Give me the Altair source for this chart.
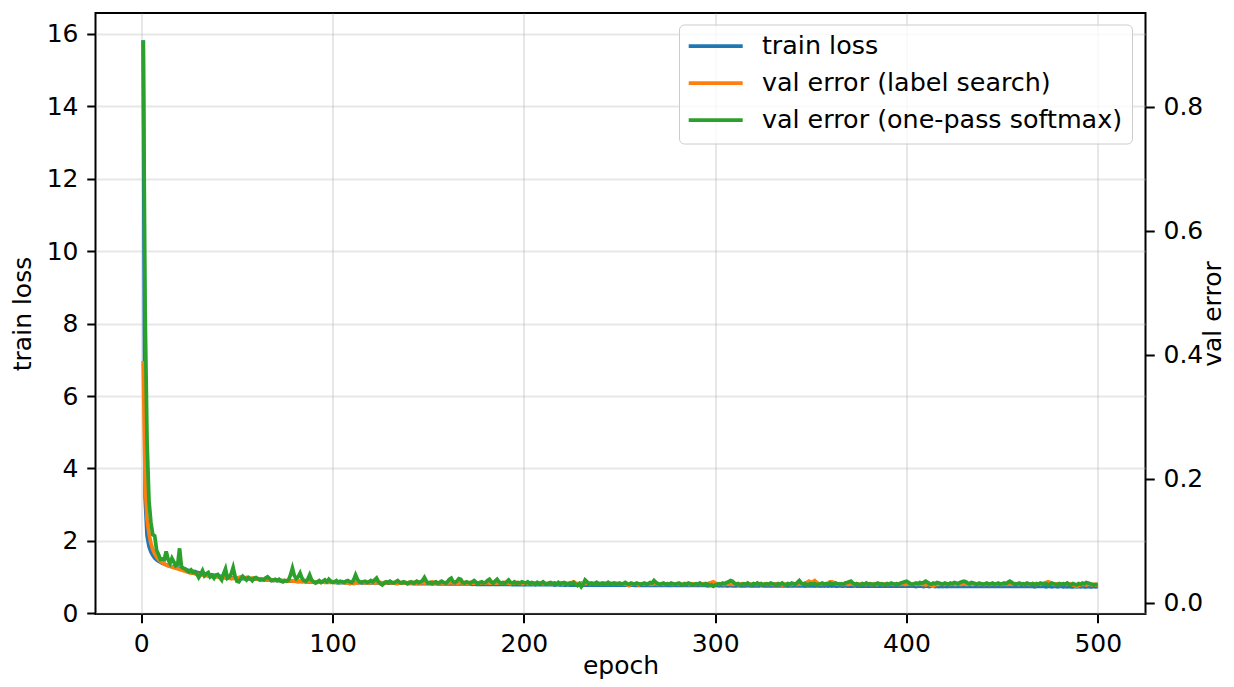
import altair as alt
import pandas as pd

epochs = list(range(1, 501))

series_names = ["train loss", "val error (label search)", "val error (one-pass softmax)"]
series_colors = ["#1f77b4", "#ff7f0e", "#2ca02c"]

train_loss = [
    15.83, 3.20, 2.15, 1.85, 1.70, 1.60, 1.53, 1.48, 1.44, 1.41,
    1.38, 1.36, 1.34, 1.32, 1.30, 1.29, 1.27, 1.26, 1.25, 1.24,
    1.23, 1.22, 1.21, 1.19, 1.18, 1.17, 1.16, 1.15, 1.13, 1.12,
    1.11, 1.10, 1.09, 1.08, 1.07, 1.06, 1.06, 1.05, 1.04, 1.03,
    1.02, 1.02, 1.01, 1.00, 1.00, 0.99, 0.99, 0.98, 0.98, 0.98,
    0.97, 0.97, 0.96, 0.96, 0.96, 0.95, 0.95, 0.95, 0.94, 0.94,
    0.94, 0.93, 0.93, 0.93, 0.92, 0.92, 0.92, 0.91, 0.91, 0.91,
    0.91, 0.90, 0.90, 0.90, 0.90, 0.89, 0.89, 0.89, 0.89, 0.89,
    0.88, 0.88, 0.88, 0.88, 0.88, 0.87, 0.87, 0.87, 0.87, 0.87,
    0.87, 0.87, 0.86, 0.86, 0.86, 0.86, 0.86, 0.86, 0.86, 0.86,
    0.86, 0.85, 0.85, 0.85, 0.85, 0.85, 0.85, 0.85, 0.85, 0.85,
    0.85, 0.85, 0.84, 0.85, 0.84, 0.84, 0.84, 0.84, 0.84, 0.84,
    0.84, 0.84, 0.84, 0.84, 0.84, 0.83, 0.84, 0.83, 0.83, 0.83,
    0.83, 0.83, 0.83, 0.83, 0.83, 0.83, 0.83, 0.83, 0.83, 0.82,
    0.83, 0.82, 0.82, 0.82, 0.82, 0.82, 0.82, 0.82, 0.82, 0.82,
    0.82, 0.82, 0.82, 0.82, 0.81, 0.82, 0.81, 0.81, 0.81, 0.81,
    0.81, 0.81, 0.81, 0.81, 0.81, 0.81, 0.81, 0.81, 0.81, 0.81,
    0.81, 0.81, 0.80, 0.81, 0.80, 0.80, 0.80, 0.80, 0.80, 0.80,
    0.80, 0.80, 0.80, 0.80, 0.80, 0.80, 0.80, 0.80, 0.80, 0.80,
    0.80, 0.80, 0.80, 0.79, 0.80, 0.79, 0.79, 0.80, 0.79, 0.79,
    0.79, 0.79, 0.79, 0.79, 0.79, 0.79, 0.79, 0.79, 0.79, 0.79,
    0.79, 0.79, 0.79, 0.79, 0.79, 0.78, 0.79, 0.79, 0.78, 0.79,
    0.78, 0.78, 0.79, 0.78, 0.78, 0.78, 0.78, 0.78, 0.78, 0.78,
    0.78, 0.78, 0.78, 0.78, 0.78, 0.78, 0.78, 0.78, 0.78, 0.78,
    0.78, 0.78, 0.78, 0.78, 0.78, 0.78, 0.78, 0.78, 0.78, 0.78,
    0.78, 0.78, 0.78, 0.78, 0.77, 0.78, 0.78, 0.77, 0.78, 0.77,
    0.77, 0.78, 0.77, 0.77, 0.77, 0.77, 0.77, 0.77, 0.77, 0.77,
    0.77, 0.77, 0.77, 0.77, 0.77, 0.77, 0.77, 0.77, 0.77, 0.77,
    0.77, 0.77, 0.77, 0.77, 0.77, 0.77, 0.77, 0.77, 0.77, 0.77,
    0.77, 0.77, 0.77, 0.77, 0.77, 0.76, 0.77, 0.77, 0.76, 0.77,
    0.77, 0.76, 0.77, 0.76, 0.77, 0.76, 0.76, 0.77, 0.76, 0.76,
    0.76, 0.77, 0.76, 0.76, 0.76, 0.76, 0.77, 0.76, 0.76, 0.76,
    0.76, 0.76, 0.76, 0.77, 0.76, 0.76, 0.76, 0.76, 0.76, 0.76,
    0.76, 0.76, 0.76, 0.76, 0.76, 0.76, 0.76, 0.75, 0.76, 0.76,
    0.76, 0.76, 0.76, 0.76, 0.76, 0.76, 0.75, 0.76, 0.76, 0.76,
    0.76, 0.75, 0.76, 0.76, 0.75, 0.76, 0.75, 0.76, 0.75, 0.76,
    0.75, 0.76, 0.75, 0.75, 0.76, 0.75, 0.75, 0.76, 0.75, 0.75,
    0.75, 0.75, 0.76, 0.75, 0.75, 0.75, 0.75, 0.75, 0.75, 0.75,
    0.75, 0.75, 0.75, 0.75, 0.75, 0.75, 0.75, 0.75, 0.75, 0.75,
    0.75, 0.75, 0.75, 0.75, 0.75, 0.75, 0.75, 0.75, 0.75, 0.75,
    0.75, 0.75, 0.75, 0.75, 0.74, 0.75, 0.75, 0.75, 0.74, 0.75,
    0.75, 0.74, 0.75, 0.75, 0.74, 0.75, 0.74, 0.75, 0.74, 0.75,
    0.74, 0.75, 0.74, 0.74, 0.75, 0.74, 0.74, 0.75, 0.74, 0.74,
    0.74, 0.74, 0.75, 0.74, 0.74, 0.74, 0.74, 0.74, 0.74, 0.74,
    0.74, 0.74, 0.74, 0.74, 0.74, 0.74, 0.74, 0.74, 0.74, 0.74,
    0.74, 0.74, 0.74, 0.74, 0.74, 0.74, 0.74, 0.74, 0.74, 0.74,
    0.74, 0.74, 0.74, 0.74, 0.74, 0.74, 0.73, 0.74, 0.74, 0.74,
    0.74, 0.74, 0.73, 0.74, 0.74, 0.73, 0.74, 0.74, 0.73, 0.74,
    0.74, 0.73, 0.74, 0.73, 0.74, 0.73, 0.73, 0.74, 0.73, 0.74,
    0.73, 0.74, 0.73, 0.73, 0.74, 0.73, 0.73, 0.74, 0.73, 0.74,
]

val_error_label_search = [
    0.390, 0.195, 0.135, 0.112, 0.096, 0.086, 0.079, 0.074, 0.070, 0.067,
    0.065, 0.063, 0.061, 0.060, 0.059, 0.058, 0.057, 0.056, 0.055, 0.054,
    0.053, 0.052, 0.051, 0.050, 0.049, 0.048, 0.048, 0.047, 0.046, 0.046,
    0.045, 0.045, 0.044, 0.044, 0.043, 0.043, 0.043, 0.042, 0.042, 0.042,
    0.041, 0.041, 0.041, 0.040, 0.040, 0.040, 0.039, 0.040, 0.039, 0.039,
    0.041, 0.042, 0.041, 0.040, 0.041, 0.040, 0.039, 0.040, 0.039, 0.039,
    0.038, 0.039, 0.038, 0.038, 0.037, 0.038, 0.037, 0.037, 0.036, 0.037,
    0.036, 0.037, 0.036, 0.036, 0.035, 0.036, 0.035, 0.036, 0.035, 0.035,
    0.035, 0.034, 0.035, 0.034, 0.035, 0.034, 0.034, 0.035, 0.034, 0.034,
    0.034, 0.033, 0.034, 0.033, 0.034, 0.033, 0.034, 0.033, 0.033, 0.034,
    0.033, 0.034, 0.033, 0.033, 0.034, 0.033, 0.032, 0.033, 0.031, 0.032,
    0.031, 0.033, 0.032, 0.033, 0.034, 0.033, 0.032, 0.033, 0.032, 0.033,
    0.033, 0.032, 0.033, 0.032, 0.033, 0.032, 0.033, 0.032, 0.033, 0.033,
    0.032, 0.033, 0.031, 0.031, 0.032, 0.033, 0.032, 0.033, 0.032, 0.033,
    0.032, 0.033, 0.033, 0.032, 0.033, 0.032, 0.033, 0.032, 0.033, 0.032,
    0.033, 0.034, 0.032, 0.033, 0.032, 0.033, 0.032, 0.031, 0.032, 0.033,
    0.032, 0.033, 0.032, 0.033, 0.032, 0.032, 0.033, 0.032, 0.033, 0.032,
    0.032, 0.033, 0.032, 0.032, 0.033, 0.032, 0.032, 0.033, 0.032, 0.032,
    0.033, 0.032, 0.032, 0.033, 0.032, 0.032, 0.033, 0.032, 0.032, 0.033,
    0.032, 0.032, 0.031, 0.032, 0.032, 0.033, 0.032, 0.032, 0.031, 0.032,
    0.032, 0.031, 0.032, 0.032, 0.031, 0.032, 0.031, 0.032, 0.032, 0.031,
    0.032, 0.031, 0.031, 0.032, 0.031, 0.032, 0.031, 0.031, 0.032, 0.031,
    0.031, 0.032, 0.031, 0.032, 0.033, 0.034, 0.032, 0.031, 0.031, 0.032,
    0.031, 0.031, 0.032, 0.031, 0.031, 0.032, 0.031, 0.031, 0.032, 0.031,
    0.031, 0.032, 0.031, 0.031, 0.032, 0.031, 0.031, 0.032, 0.031, 0.031,
    0.031, 0.030, 0.031, 0.029, 0.028, 0.030, 0.031, 0.030, 0.031, 0.029,
    0.030, 0.031, 0.030, 0.031, 0.030, 0.031, 0.030, 0.031, 0.031, 0.030,
    0.030, 0.031, 0.030, 0.030, 0.031, 0.030, 0.031, 0.030, 0.030, 0.031,
    0.030, 0.031, 0.030, 0.030, 0.031, 0.030, 0.030, 0.031, 0.030, 0.030,
    0.031, 0.030, 0.030, 0.031, 0.030, 0.031, 0.032, 0.033, 0.034, 0.032,
    0.031, 0.030, 0.031, 0.030, 0.030, 0.031, 0.030, 0.031, 0.030, 0.030,
    0.031, 0.030, 0.030, 0.031, 0.030, 0.030, 0.031, 0.030, 0.030, 0.031,
    0.030, 0.030, 0.031, 0.030, 0.030, 0.031, 0.030, 0.030, 0.031, 0.030,
    0.030, 0.031, 0.030, 0.030, 0.029, 0.030, 0.030, 0.031, 0.030, 0.030,
    0.031, 0.030, 0.030, 0.031, 0.030, 0.031, 0.032, 0.033, 0.035, 0.033,
    0.034, 0.036, 0.033, 0.031, 0.030, 0.031, 0.030, 0.031, 0.032, 0.034,
    0.034, 0.033, 0.031, 0.030, 0.031, 0.030, 0.030, 0.031, 0.030, 0.030,
    0.031, 0.030, 0.030, 0.031, 0.030, 0.030, 0.031, 0.030, 0.030, 0.031,
    0.030, 0.030, 0.031, 0.030, 0.030, 0.031, 0.030, 0.030, 0.031, 0.030,
    0.030, 0.031, 0.030, 0.030, 0.031, 0.030, 0.030, 0.031, 0.030, 0.030,
    0.031, 0.030, 0.030, 0.031, 0.030, 0.030, 0.031, 0.030, 0.030, 0.029,
    0.030, 0.030, 0.028, 0.027, 0.029, 0.030, 0.030, 0.031, 0.030, 0.030,
    0.031, 0.030, 0.030, 0.031, 0.030, 0.030, 0.031, 0.030, 0.030, 0.031,
    0.030, 0.030, 0.031, 0.030, 0.030, 0.031, 0.030, 0.030, 0.031, 0.030,
    0.030, 0.031, 0.030, 0.030, 0.031, 0.030, 0.030, 0.031, 0.030, 0.030,
    0.031, 0.030, 0.030, 0.031, 0.030, 0.030, 0.031, 0.030, 0.030, 0.031,
    0.030, 0.030, 0.031, 0.030, 0.030, 0.031, 0.030, 0.030, 0.031, 0.030,
    0.031, 0.032, 0.033, 0.034, 0.033, 0.031, 0.030, 0.030, 0.031, 0.030,
    0.030, 0.031, 0.030, 0.030, 0.031, 0.030, 0.029, 0.028, 0.027, 0.028,
    0.029, 0.030, 0.030, 0.029, 0.030, 0.030, 0.029, 0.030, 0.029, 0.030,
]

val_error_softmax = [
    0.907, 0.470, 0.260, 0.165, 0.130, 0.110, 0.108, 0.085, 0.078, 0.070,
    0.071, 0.070, 0.083, 0.070, 0.064, 0.072, 0.066, 0.060, 0.062, 0.088,
    0.058, 0.056, 0.055, 0.052, 0.050, 0.053, 0.049, 0.050, 0.047, 0.041,
    0.046, 0.052, 0.044, 0.047, 0.049, 0.042, 0.044, 0.040, 0.045, 0.046,
    0.041, 0.037, 0.047, 0.055, 0.040, 0.042, 0.047, 0.057, 0.043, 0.035,
    0.034, 0.039, 0.043, 0.040, 0.037, 0.041, 0.039, 0.036, 0.040, 0.041,
    0.039, 0.037, 0.038, 0.037, 0.040, 0.042, 0.039, 0.036, 0.037, 0.038,
    0.036, 0.038, 0.035, 0.034, 0.036, 0.035, 0.037, 0.045, 0.056, 0.044,
    0.039, 0.042, 0.048, 0.040, 0.036, 0.035, 0.038, 0.045, 0.037, 0.034,
    0.032, 0.034, 0.036, 0.033, 0.035, 0.037, 0.034, 0.038, 0.035, 0.033,
    0.034, 0.036, 0.033, 0.035, 0.034, 0.033, 0.035, 0.036, 0.034, 0.033,
    0.037, 0.045, 0.038, 0.034, 0.033, 0.034, 0.035, 0.033, 0.034, 0.036,
    0.034, 0.037, 0.040, 0.034, 0.031, 0.029, 0.032, 0.034, 0.033, 0.035,
    0.033, 0.032, 0.034, 0.036, 0.033, 0.032, 0.034, 0.033, 0.031, 0.033,
    0.034, 0.032, 0.033, 0.035, 0.033, 0.034, 0.036, 0.041, 0.035, 0.032,
    0.033, 0.031, 0.033, 0.034, 0.032, 0.033, 0.035, 0.033, 0.032, 0.034,
    0.038, 0.040, 0.034, 0.033, 0.035, 0.039, 0.038, 0.033, 0.032, 0.034,
    0.033, 0.032, 0.034, 0.036, 0.033, 0.031, 0.033, 0.034, 0.032, 0.033,
    0.036, 0.038, 0.034, 0.032, 0.035, 0.038, 0.034, 0.032, 0.033, 0.031,
    0.034, 0.037, 0.033, 0.032, 0.034, 0.031, 0.033, 0.032, 0.034, 0.033,
    0.032, 0.034, 0.031, 0.033, 0.032, 0.030, 0.033, 0.031, 0.032, 0.034,
    0.031, 0.030, 0.032, 0.033, 0.031, 0.032, 0.030, 0.033, 0.031, 0.032,
    0.033, 0.031, 0.030, 0.032, 0.031, 0.033, 0.030, 0.028, 0.031, 0.026,
    0.030, 0.037, 0.034, 0.031, 0.032, 0.030, 0.031, 0.033, 0.030, 0.031,
    0.032, 0.030, 0.031, 0.033, 0.030, 0.031, 0.032, 0.030, 0.031, 0.032,
    0.030, 0.031, 0.033, 0.031, 0.030, 0.032, 0.031, 0.030, 0.032, 0.031,
    0.030, 0.031, 0.032, 0.030, 0.031, 0.033, 0.032, 0.036, 0.033, 0.031,
    0.030, 0.031, 0.032, 0.030, 0.031, 0.030, 0.032, 0.031, 0.030, 0.031,
    0.032, 0.030, 0.029, 0.031, 0.030, 0.032, 0.031, 0.029, 0.030, 0.031,
    0.030, 0.032, 0.030, 0.029, 0.031, 0.030, 0.028, 0.029, 0.027, 0.029,
    0.030, 0.031, 0.030, 0.032, 0.031, 0.033, 0.034, 0.036, 0.035, 0.032,
    0.030, 0.031, 0.029, 0.030, 0.031, 0.030, 0.032, 0.030, 0.029, 0.031,
    0.030, 0.032, 0.030, 0.031, 0.029, 0.030, 0.031, 0.030, 0.032, 0.031,
    0.030, 0.029, 0.031, 0.030, 0.032, 0.030, 0.029, 0.031, 0.030, 0.032,
    0.031, 0.030, 0.033, 0.036, 0.032, 0.030, 0.031, 0.029, 0.030, 0.031,
    0.030, 0.031, 0.029, 0.030, 0.031, 0.032, 0.030, 0.031, 0.030, 0.032,
    0.031, 0.030, 0.032, 0.031, 0.030, 0.031, 0.030, 0.032, 0.033, 0.034,
    0.035, 0.032, 0.030, 0.031, 0.030, 0.029, 0.031, 0.030, 0.032, 0.030,
    0.031, 0.030, 0.029, 0.031, 0.032, 0.030, 0.031, 0.030, 0.029, 0.031,
    0.030, 0.032, 0.031, 0.030, 0.031, 0.030, 0.032, 0.033, 0.034, 0.035,
    0.033, 0.031, 0.030, 0.031, 0.032, 0.031, 0.033, 0.032, 0.033, 0.035,
    0.033, 0.031, 0.030, 0.032, 0.031, 0.033, 0.032, 0.031, 0.030, 0.032,
    0.031, 0.030, 0.032, 0.031, 0.033, 0.032, 0.031, 0.033, 0.034, 0.035,
    0.034, 0.032, 0.031, 0.033, 0.032, 0.031, 0.030, 0.032, 0.031, 0.030,
    0.031, 0.032, 0.030, 0.031, 0.032, 0.030, 0.031, 0.032, 0.030, 0.031,
    0.032, 0.031, 0.033, 0.035, 0.033, 0.031, 0.030, 0.031, 0.032, 0.030,
    0.031, 0.030, 0.032, 0.031, 0.030, 0.031, 0.029, 0.031, 0.030, 0.032,
    0.031, 0.030, 0.031, 0.029, 0.030, 0.032, 0.031, 0.030, 0.029, 0.031,
    0.030, 0.031, 0.030, 0.032, 0.030, 0.029, 0.031, 0.030, 0.029, 0.031,
    0.030, 0.032, 0.031, 0.033, 0.032, 0.031, 0.030, 0.029, 0.030, 0.030,
]

x_ticks = [0, 100, 200, 300, 400, 500]
left_ticks = [0, 2, 4, 6, 8, 10, 12, 14, 16]
right_ticks = [0.0, 0.2, 0.4, 0.6, 0.8]

assert len(train_loss) == 500 and len(val_error_label_search) == 500 and len(val_error_softmax) == 500

df_train = pd.DataFrame({"epoch": epochs, "value": train_loss, "series": series_names[0]})
df_search = pd.DataFrame({"epoch": epochs, "value": val_error_label_search, "series": series_names[1]})
df_soft = pd.DataFrame({"epoch": epochs, "value": val_error_softmax, "series": series_names[2]})

FONT = "DejaVu Sans"
LW = 3.75

x_enc = alt.X(
    "epoch:Q",
    scale=alt.Scale(domain=[-23.95, 524.95], nice=False, zero=False),
    axis=alt.Axis(values=x_ticks, title="epoch", grid=True, labelFlush=False,
                  labelOverlap=False, titleX=525, titleY=59,
                  titleBaseline="alphabetic", titleAlign="center"),
)

color_enc = alt.Color(
    "series:N",
    scale=alt.Scale(domain=series_names, range=series_colors),
    legend=alt.Legend(
        title=None, orient="none", legendX=583.5, legendY=11.5,
        symbolType="M-3,0H3", symbolSize=324, symbolStrokeWidth=LW,
        symbolOffset=15, labelOffset=33.5, labelFont=FONT, labelFontSize=25.4,
        labelColor="black", labelLimit=1000, rowPadding=10, padding=9,
        strokeColor="#cccccc", fillColor="rgba(255,255,255,0.8)", cornerRadius=5,
    ),
)

left_y = alt.Y(
    "value:Q",
    scale=alt.Scale(domain=[-0.02, 16.58], nice=False, zero=False),
    axis=alt.Axis(orient="left", title="train loss", values=left_ticks, grid=True,
                  labelOverlap=False, titleAngle=-90, titleX=-65.5, titleY=300.5,
                  titleBaseline="alphabetic", titleAlign="center"),
)

right_axis = alt.Axis(orient="right", title="val error", values=right_ticks, format=".1f",
                      grid=False, labelOverlap=False, titleAngle=-90, titleX=75,
                      titleY=300.5, titleBaseline="alphabetic", titleAlign="center")
right_scale = alt.Scale(domain=[-0.0179, 0.9513], nice=False, zero=False)

blue = alt.Chart(df_train).mark_line(strokeWidth=LW).encode(x=x_enc, y=left_y, color=color_enc)
orange = alt.Chart(df_search).mark_line(strokeWidth=LW).encode(
    x=x_enc, y=alt.Y("value:Q", scale=right_scale, axis=right_axis), color=color_enc)
green = alt.Chart(df_soft).mark_line(strokeWidth=LW).encode(
    x=x_enc, y=alt.Y("value:Q", scale=right_scale, axis=right_axis), color=color_enc)

val_layer = alt.layer(orange, green)

chart = (
    alt.layer(blue, val_layer)
    .resolve_scale(y="independent")
    .properties(
        width=1050, height=601,
        padding={"left": 87.5, "top": 5, "right": 80.5, "bottom": 65},
        autosize=alt.AutoSizeParams(type="none"),
        background="white",
    )
    .configure_view(stroke="black", strokeWidth=2)
    .configure_axis(
        labelFont=FONT, labelFontSize=25, labelColor="black",
        titleFont=FONT, titleFontSize=25, titleFontWeight="normal", titleColor="black",
        tickColor="black", tickWidth=2, tickSize=8.75, labelPadding=8.75,
        domain=False, gridColor="#b0b0b0", gridOpacity=0.3, gridWidth=2,
    )
)

chart.save("out.html", embed_options={"renderer": "svg", "actions": False})
